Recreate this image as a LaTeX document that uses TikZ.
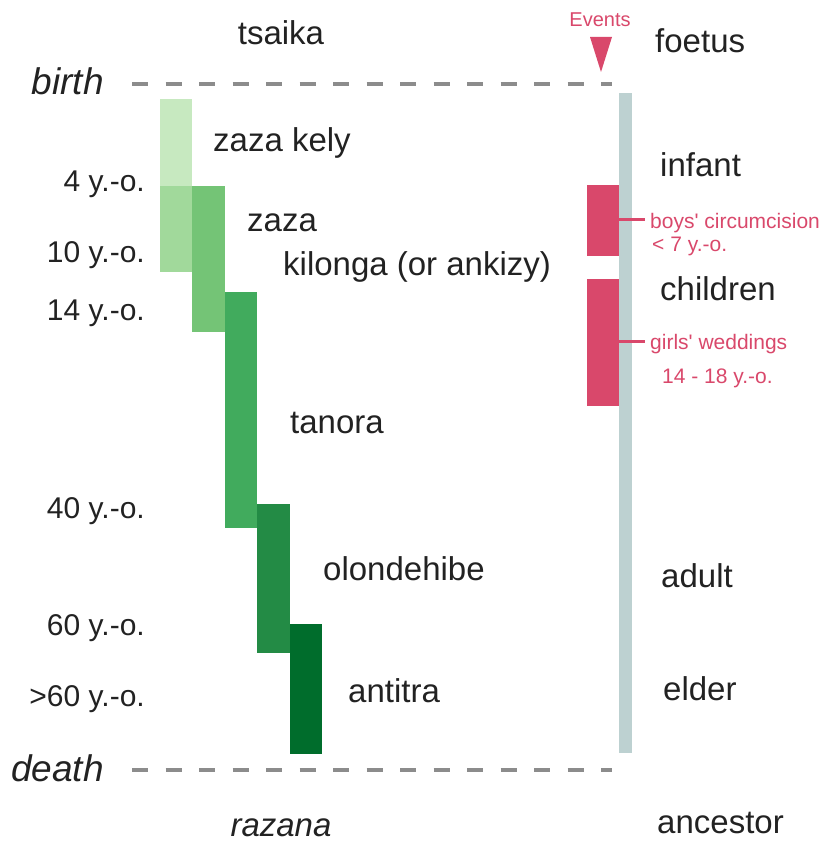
\documentclass[tikz,border=0pt]{standalone}
\usepackage{fontspec}
\setmainfont{Liberation Sans}
\definecolor{g1}{HTML}{C7E9C0}
\definecolor{g2}{HTML}{A1D99B}
\definecolor{g3}{HTML}{74C476}
\definecolor{g4}{HTML}{41AB5D}
\definecolor{g5}{HTML}{238B45}
\definecolor{g6}{HTML}{006D2C}
\definecolor{evred}{HTML}{D9486B}
\definecolor{greybar}{HTML}{BDD1D1}
\definecolor{dashgrey}{HTML}{8C8C8C}
\definecolor{txt}{HTML}{222222}
\begin{document}
\begin{tikzpicture}[x=1pt,y=-1pt,
  lbl/.style={font=\fontsize{33}{40}\selectfont, inner sep=0pt, text=txt, anchor=base west},
  age/.style={font=\fontsize{30}{36}\selectfont, inner sep=0pt, text=txt, anchor=base east},
  itl/.style={font=\fontsize{37}{44}\selectfont\itshape, inner sep=0pt, text=txt},
  evlbl/.style={font=\fontsize{21}{25}\selectfont, inner sep=0pt, text=evred, anchor=base west},
  lifeline/.style={draw=dashgrey, line width=4pt, dash pattern=on 16pt off 17.5pt},
  redline/.style={draw=evred, line width=3pt}]
\useasboundingbox (0,0) rectangle (825,842);
% dashed lines
\coordinate (b0) at (132,84);
\coordinate (b1) at (612,84);
\coordinate (d0) at (132,770);
\coordinate (d1) at (612,770);
\draw[lifeline] (b0) -- (b1);
\draw[lifeline] (d0) -- (d1);
% green bars
\fill[g1] (160,99) rectangle (192,186);
\fill[g2] (160,186) rectangle (192,272);
\fill[g3] (192,186) rectangle (225,332);
\fill[g4] (225,292) rectangle (257,528);
\fill[g5] (257,504) rectangle (290,653);
\fill[g6] (290,624) rectangle (322,754);
% event bars
\node (redA) [fill=evred, inner sep=0pt, minimum width=32pt, minimum height=71pt] at (603,220.5) {};
\node (redB) [fill=evred, inner sep=0pt, minimum width=32pt, minimum height=127pt] at (603,342.5) {};
\node (bar) [fill=greybar, inner sep=0pt, minimum width=13pt, minimum height=660pt] at (625.5,423) {};
\coordinate (c1) at (645,220);
\coordinate (c2) at (645,341);
\draw[redline] (redA.east |- c1) -- (c1);
\draw[redline] (redB.east |- c2) -- (c2);
% events marker
\node (events) [font=\fontsize{20}{24}\selectfont, text=evred, inner sep=0pt, anchor=base] at (600,27) {Events};
\fill[evred] (590,37) -- (612,37) -- (601,72) -- cycle;
% top / bottom
\node (tsaika) [lbl, anchor=base] at (281,45) {tsaika};
\node (birth) [itl, anchor=base east] at (104,95) {birth};
\node (death) [itl, anchor=base east] at (104,781) {death};
\node (razana) [lbl, anchor=base, font=\fontsize{33}{40}\selectfont\itshape] at (281,836) {razana};
% ages
\node (a4) [age] at (145,192) {4 y.-o.};
\node (a10) [age] at (145,262) {10 y.-o.};
\node (a14) [age] at (145,320) {14 y.-o.};
\node (a40) [age] at (145,518) {40 y.-o.};
\node (a60) [age] at (145,635) {60 y.-o.};
\node (a61) [age] at (145,706) {>60 y.-o.};
% stage names
\node (zk) [lbl] at (213,152) {zaza kely};
\node (zz) [lbl] at (247,232) {zaza};
\node (kil) [lbl] at (283,275) {kilonga (or ankizy)};
\node (tan) [lbl] at (290,433) {tanora};
\node (olo) [lbl] at (323,580) {olondehibe};
\node (ant) [lbl] at (348,702) {antitra};
% right column
\node (foe) [lbl] at (655,53) {foetus};
\node (inf) [lbl] at (660,177) {infant};
\node (chi) [lbl] at (660,300) {children};
\node (adu) [lbl] at (661,587) {adult};
\node (eld) [lbl] at (663,700) {elder};
\node (anc) [lbl] at (657,833) {ancestor};
% events labels
\node (boys) [evlbl] at (650,229) {boys\textquotesingle{} circumcision};
\node (boysage) [evlbl] at (652,251) {< 7 y.-o.};
\node (girls) [evlbl] at (650,349) {girls\textquotesingle{} weddings};
\node (girlsage) [evlbl] at (662,383) {14 - 18 y.-o.};
\end{tikzpicture}
\end{document}
